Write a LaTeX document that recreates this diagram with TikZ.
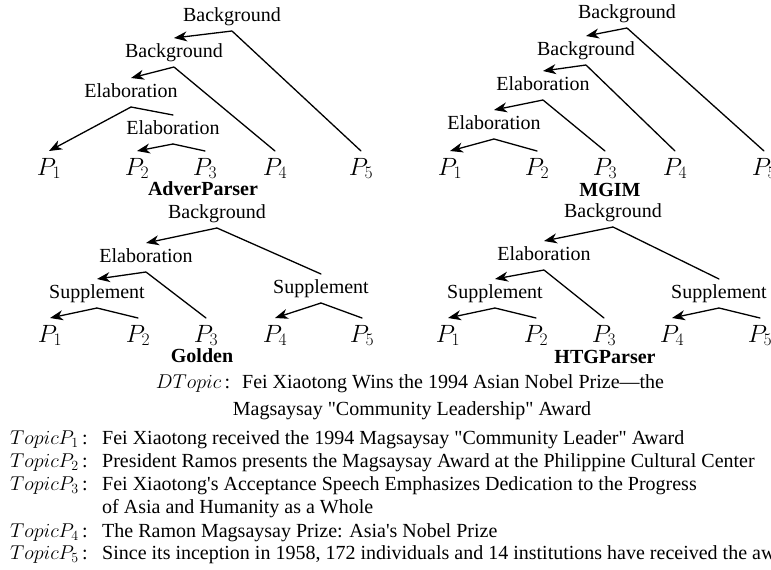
\documentclass[tikz,border=0pt]{standalone}
\usepackage{fix-cm}
\usepackage[no-math]{fontspec}
\setmainfont{Liberation Serif}[Ligatures=TeXOff]
\usetikzlibrary{arrows.meta}
\newcommand{\tpline}[2]{\makebox[92pt][l]{#1}#2}
\begin{document}
\begin{tikzpicture}[x=1pt,y=-1pt,
  rel/.style={font=\fontsize{20}{24}\selectfont, anchor=base, inner sep=0pt,
    text height=14pt, text depth=5pt, outer sep=5pt},
  leaf/.style={font=\fontsize{25}{30}\selectfont, anchor=base, inner sep=0pt,
    text height=16pt, text depth=3pt, outer sep=8pt},
  ttl/.style={font=\fontsize{20}{24}\selectfont\bfseries, anchor=base, inner sep=0pt},
  txt/.style={font=\fontsize{20}{24}\selectfont, anchor=base west, inner sep=0pt},
  ctxt/.style={font=\fontsize{20}{24}\selectfont, anchor=base, inner sep=0pt},
  arr/.style={-{Stealth[length=13pt,width=10pt,inset=4pt]}, line width=1.3pt},
  seg/.style={line width=1.3pt, line cap=round},
]
\fill[white] (0,0) rectangle (771,570);
\clip (0,0) rectangle (771,570);

% ---------- AdverParser ----------
\node[rel] (tlbga) at (232,21) {Background};
\node[rel] (tlbgb) at (174,57) {Background};
\node[rel] (tlela) at (131,97) {Elaboration};
\node[rel] (tlelb) at (173,134) {Elaboration};
\node[leaf] (tlp1) at (49,175) {$P_1$};
\node[leaf] (tlp2) at (137,175) {$P_2$};
\node[leaf] (tlp3) at (205,175) {$P_3$};
\node[leaf] (tlp4) at (275,175) {$P_4$};
\node[leaf] (tlp5) at (361,175) {$P_5$};
\node[ttl] (tlt) at (203,195) {AdverParser};
\draw[arr] (tlbga.south) -- (tlbgb.north);
\draw[seg] (tlbga.south) -- (tlp5.north);
\draw[arr] (tlbgb.south) -- (tlela.north);
\draw[seg] (tlbgb.south) -- (tlp4.north);
\draw[arr] (tlela.south) -- (tlp1.north);
\draw[seg] (tlela.south) -- (tlelb.north);
\draw[arr] (tlelb.south) -- (tlp2.north);
\draw[seg] (tlelb.south) -- (tlp3.north);

% ---------- MGIM ----------
\node[rel] (trbga) at (627,18) {Background};
\node[rel] (trbgb) at (586,55) {Background};
\node[rel] (trela) at (543,90) {Elaboration};
\node[rel] (trelb) at (494,129) {Elaboration};
\node[leaf] (trp1) at (450,175) {$P_1$};
\node[leaf] (trp2) at (537,175) {$P_2$};
\node[leaf] (trp3) at (605,175) {$P_3$};
\node[leaf] (trp4) at (675,175) {$P_4$};
\node[leaf] (trp5) at (764,175) {$P_5$};
\node[ttl] (trt) at (610,196) {MGIM};
\draw[arr] (trbga.south) -- (trbgb.north);
\draw[seg] (trbga.south) -- (trp5.north);
\draw[arr] (trbgb.south) -- (trela.north);
\draw[seg] (trbgb.south) -- (trp4.north);
\draw[arr] (trela.south) -- (trelb.north);
\draw[seg] (trela.south) -- (trp3.north);
\draw[arr] (trelb.south) -- (trp1.north);
\draw[seg] (trelb.south) -- (trp2.north);

% ---------- Golden ----------
\node[rel] (blbg) at (217,218) {Background};
\node[rel] (blel) at (146,262) {Elaboration};
\node[rel] (blsa) at (97,298) {Supplement};
\node[rel] (blsb) at (321,293) {Supplement};
\node[leaf] (blp1) at (50,342) {$P_1$};
\node[leaf] (blp2) at (138,342) {$P_2$};
\node[leaf] (blp3) at (206,342) {$P_3$};
\node[leaf] (blp4) at (275,342) {$P_4$};
\node[leaf] (blp5) at (362,342) {$P_5$};
\node[ttl] (blt) at (202,362) {Golden};
\draw[arr] (blbg.south) -- (blel.north);
\draw[seg] (blbg.south) -- (blsb.north);
\draw[arr] (blel.south) -- (blsa.north);
\draw[seg] (blel.south) -- (blp3.north);
\draw[arr] (blsa.south) -- (blp1.north);
\draw[seg] (blsa.south) -- (blp2.north);
\draw[arr] (blsb.south) -- (blp4.north);
\draw[seg] (blsb.south) -- (blp5.north);

% ---------- HTGParser ----------
\node[rel] (brbg) at (613,217) {Background};
\node[rel] (brel) at (544,260) {Elaboration};
\node[rel] (brsa) at (495,298) {Supplement};
\node[rel] (brsb) at (719,298) {Supplement};
\node[leaf] (brp1) at (448,342) {$P_1$};
\node[leaf] (brp2) at (536,342) {$P_2$};
\node[leaf] (brp3) at (604,342) {$P_3$};
\node[leaf] (brp4) at (672,342) {$P_4$};
\node[leaf] (brp5) at (760,342) {$P_5$};
\node[ttl] (brt) at (605,363) {HTGParser};
\draw[arr] (brbg.south) -- (brel.north);
\draw[seg] (brbg.south) -- (brsb.north);
\draw[arr] (brel.south) -- (brsa.north);
\draw[seg] (brel.south) -- (brp3.north);
\draw[arr] (brsa.south) -- (brp1.north);
\draw[seg] (brsa.south) -- (brp2.north);
\draw[arr] (brsb.south) -- (brp4.north);
\draw[seg] (brsb.south) -- (brp5.north);

% ---------- topic descriptions ----------
\node[ctxt] (dt1) at (410,388) {$DTopic$\,:\hspace{12pt}Fei Xiaotong Wins the 1994 Asian Nobel Prize—the};
\node[ctxt] (dt2) at (412,415) {Magsaysay "Community Leadership" Award};
\node[txt] (tp1) at (10,444) {\tpline{$TopicP_1$\,:}{Fei Xiaotong received the 1994 Magsaysay "Community Leader" Award}};
\node[txt] (tp2) at (10,467) {\tpline{$TopicP_2$\,:}{President Ramos presents the Magsaysay Award at the Philippine Cultural Center}};
\node[txt] (tp3) at (10,490) {\tpline{$TopicP_3$\,:}{Fei Xiaotong's Acceptance Speech Emphasizes Dedication to the Progress}};
\node[txt] (tp3b) at (102,513) {of Asia and Humanity as a Whole};
\node[txt] (tp4) at (10,537) {\tpline{$TopicP_4$\,:}{The Ramon Magsaysay Prize: Asia's Nobel Prize}};
\node[txt] (tp5) at (10,559) {\tpline{$TopicP_5$\,:}{Since its inception in 1958, 172 individuals and 14 institutions have received the award}};
\end{tikzpicture}
\end{document}
